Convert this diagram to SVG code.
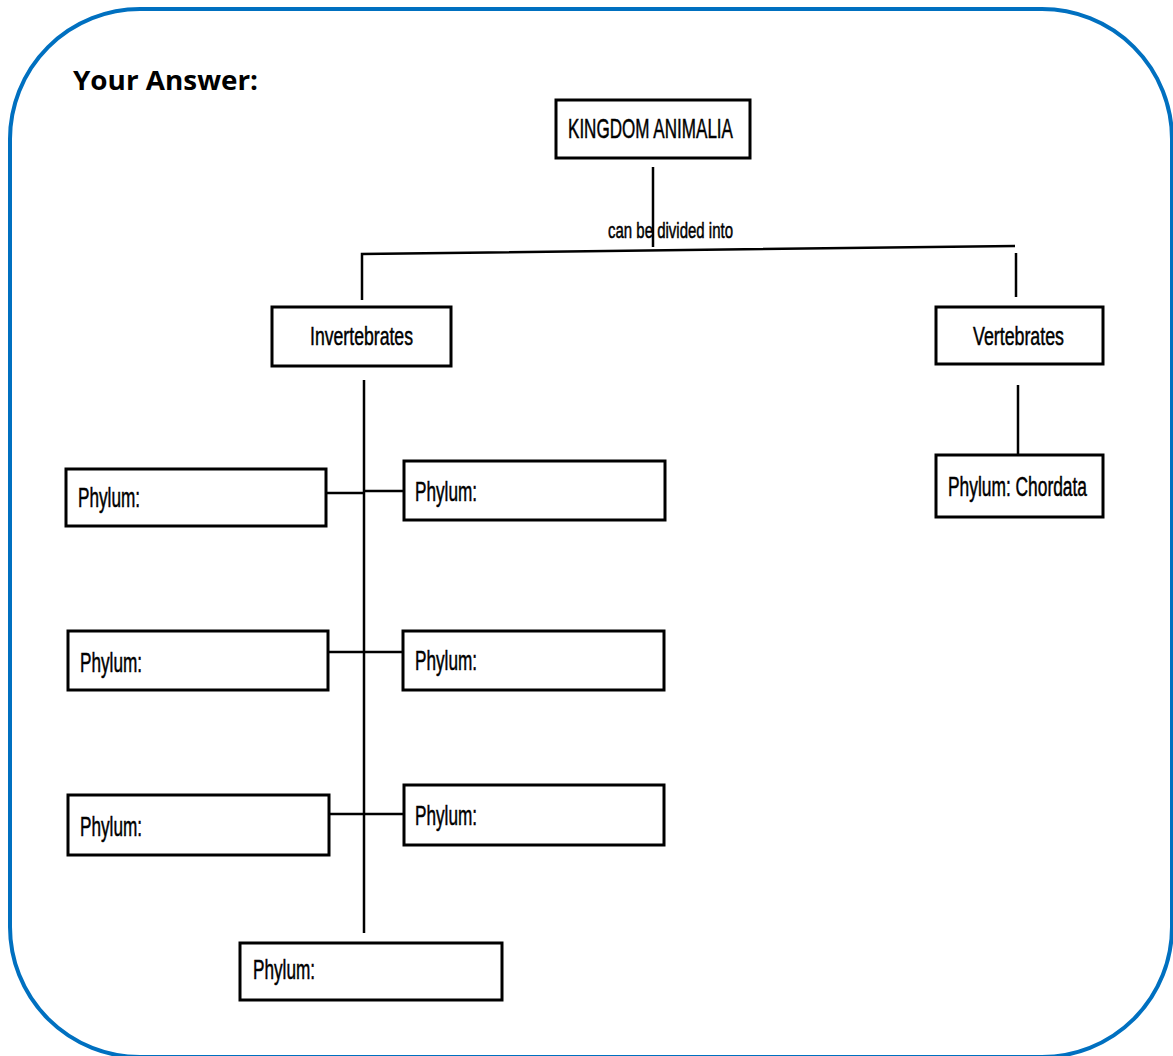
<svg xmlns="http://www.w3.org/2000/svg" width="1173" height="1056" viewBox="0 0 1173 1056">
  <style>
    .frame { fill: none; stroke: #0070C0; stroke-width: 4; }
    .box { fill: #ffffff; stroke: #000000; stroke-width: 3; }
    .wire { fill: none; stroke: #000000; stroke-width: 2.5; }
    .lbl { font-family: "Liberation Sans", Arial, sans-serif; fill: #000000; stroke: #000000; stroke-width: 0.5; }
    .title { font-family: "Open Sans", "Liberation Sans", sans-serif; font-weight: bold; font-size: 26px; fill: #000000; }
  </style>

  <rect width="1173" height="1056" fill="#ffffff"/>
  <rect class="frame" x="10" y="9" width="1162" height="1048" rx="130" ry="130"/>

  <text class="title" x="73" y="90" textLength="185" lengthAdjust="spacingAndGlyphs">Your Answer:</text>

  <g id="connectors">
    <line class="wire" x1="653" y1="167" x2="653" y2="247"/>
    <polyline class="wire" points="362,300 362,254 1015,246" stroke-width="3"/>
    <line class="wire" x1="1016" y1="253" x2="1016" y2="297"/>
    <line class="wire" x1="364" y1="380" x2="364" y2="933"/>
    <line class="wire" x1="326" y1="493" x2="364" y2="493" stroke-width="3"/>
    <line class="wire" x1="364" y1="491" x2="404" y2="491" stroke-width="3"/>
    <line class="wire" x1="328" y1="652" x2="403" y2="652" stroke-width="3"/>
    <line class="wire" x1="329" y1="814" x2="404" y2="814" stroke-width="3"/>
    <line class="wire" x1="1018" y1="385" x2="1018" y2="455"/>
    <text class="lbl" x="608" y="238" font-size="22" textLength="125" lengthAdjust="spacingAndGlyphs">can be divided into</text>
  </g>

  <g id="kingdom">
    <rect class="box" x="556" y="100" width="194" height="58"/>
    <text class="lbl" x="568" y="138" font-size="28" textLength="165" lengthAdjust="spacingAndGlyphs">KINGDOM ANIMALIA</text>
  </g>

  <g id="invertebrates">
    <rect class="box" x="272" y="307" width="179" height="59"/>
    <text class="lbl" x="310" y="345" font-size="26" textLength="103" lengthAdjust="spacingAndGlyphs">Invertebrates</text>
  </g>

  <g id="vertebrates">
    <rect class="box" x="936" y="307" width="167" height="57"/>
    <text class="lbl" x="973" y="345" font-size="26" textLength="91" lengthAdjust="spacingAndGlyphs">Vertebrates</text>
  </g>

  <g id="chordata">
    <rect class="box" x="936" y="455" width="167" height="62"/>
    <text class="lbl" x="948" y="496" font-size="27" textLength="139" lengthAdjust="spacingAndGlyphs">Phylum: Chordata</text>
  </g>

  <g id="phylum-1l">
    <rect class="box" x="66" y="469" width="260" height="57"/>
    <text class="lbl" x="78" y="507" font-size="27" textLength="62" lengthAdjust="spacingAndGlyphs">Phylum:</text>
  </g>
  <g id="phylum-1r">
    <rect class="box" x="404" y="461" width="261" height="59"/>
    <text class="lbl" x="415" y="501" font-size="27" textLength="62" lengthAdjust="spacingAndGlyphs">Phylum:</text>
  </g>

  <g id="phylum-2l">
    <rect class="box" x="68" y="631" width="260" height="59"/>
    <text class="lbl" x="80" y="672" font-size="27" textLength="62" lengthAdjust="spacingAndGlyphs">Phylum:</text>
  </g>
  <g id="phylum-2r">
    <rect class="box" x="403" y="631" width="261" height="59"/>
    <text class="lbl" x="415" y="670" font-size="27" textLength="62" lengthAdjust="spacingAndGlyphs">Phylum:</text>
  </g>

  <g id="phylum-3l">
    <rect class="box" x="68" y="795" width="261" height="60"/>
    <text class="lbl" x="80" y="836" font-size="27" textLength="62" lengthAdjust="spacingAndGlyphs">Phylum:</text>
  </g>
  <g id="phylum-3r">
    <rect class="box" x="404" y="785" width="260" height="60"/>
    <text class="lbl" x="415" y="825" font-size="27" textLength="62" lengthAdjust="spacingAndGlyphs">Phylum:</text>
  </g>

  <g id="phylum-4">
    <rect class="box" x="240" y="943" width="262" height="57"/>
    <text class="lbl" x="253" y="979" font-size="27" textLength="62" lengthAdjust="spacingAndGlyphs">Phylum:</text>
  </g>
</svg>
